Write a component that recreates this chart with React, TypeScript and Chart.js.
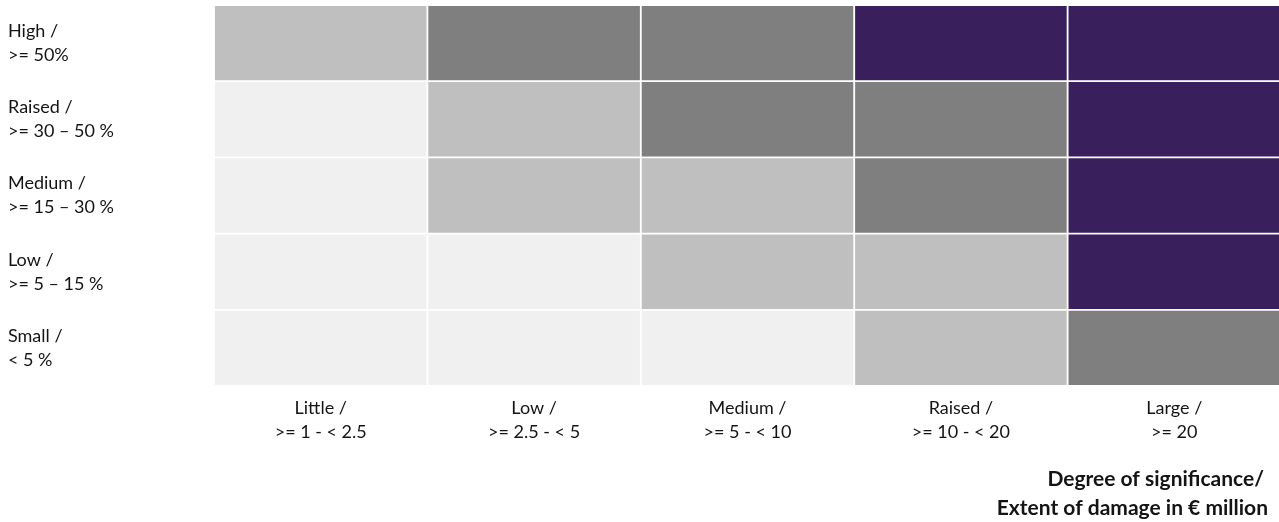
import { useEffect, useRef } from "react";
import { Chart, registerables } from "chart.js";

Chart.register(...registerables);

// Likelihood of occurrence (rows, top to bottom)
const rowLabels: string[][] = [
  ["High /", ">= 50%"],
  ["Raised /", ">= 30 – 50 %"],
  ["Medium /", ">= 15 – 30 %"],
  ["Low /", ">= 5 – 15 %"],
  ["Small /", "< 5 %"],
];

// Degree of significance / extent of damage (columns, left to right)
const colLabels: string[][] = [
  ["Little /", ">= 1 - < 2.5"],
  ["Low /", ">= 2.5 - < 5"],
  ["Medium /", ">= 5 - < 10"],
  ["Raised /", ">= 10 - < 20"],
  ["Large /", ">= 20"],
];

const axisCaption: string[] = ["Degree of significance/", "Extent of damage in € million"];

// Risk class of each cell, 0 = lowest … 3 = highest
const riskHigh = [1, 2, 2, 3, 3];
const riskRaised = [0, 1, 2, 2, 3];
const riskMedium = [0, 1, 1, 2, 3];
const riskLow = [0, 0, 1, 1, 3];
const riskSmall = [0, 0, 0, 1, 2];
const riskRows = [riskHigh, riskRaised, riskMedium, riskLow, riskSmall];

const levelColors = ["#F0F0F0", "#BFBFBF", "#7F7F7F", "#3A1F5D"];

const FONT = "Lato, 'Liberation Sans', sans-serif";
const TEXT = "#141414";

// Two-line, right-aligned caption for the horizontal axis
const captionPlugin = {
  id: "axisCaption",
  afterDraw(chart: any) {
    const { ctx, chartArea } = chart;
    ctx.save();
    ctx.font = `bold 21px ${FONT}`;
    ctx.fillStyle = TEXT;
    ctx.textAlign = "right";
    ctx.textBaseline = "middle";
    ctx.fillText(axisCaption[0], chartArea.right - 17, 479);
    ctx.fillText(axisCaption[1], chartArea.right - 13, 508);
    ctx.restore();
  },
};

export default function App() {
  const ref = useRef<HTMLCanvasElement>(null);

  useEffect(() => {
    const chart = new Chart(ref.current!, {
      type: "bar",
      data: {
        labels: rowLabels,
        datasets: colLabels.map((c, ci) => ({
          label: c.join(" "),
          data: rowLabels.map(() => 1),
          backgroundColor: riskRows.map((r) => levelColors[r[ci]]),
          borderColor: "#ffffff",
          borderWidth: 1.25,
          borderSkipped: false,
          barPercentage: 1,
          categoryPercentage: 1,
        })),
      },
      options: {
        indexAxis: "y",
        responsive: false,
        animation: false,
        devicePixelRatio: 1,
        layout: { padding: { left: 8, top: 5, right: 0, bottom: 0 } },
        plugins: { legend: { display: false }, tooltip: { enabled: false } },
        scales: {
          x: { type: "linear", stacked: true, min: 0, max: 5, display: false },
          y: {
            type: "category",
            stacked: true,
            grid: { display: false, drawTicks: false },
            border: { display: false },
            ticks: {
              crossAlign: "far",
              padding: 0,
              color: TEXT,
              font: { family: FONT, size: 18, lineHeight: 1.333 },
            },
            afterFit: (s: any) => {
              s.width = 206;
              s.paddingTop = 0;
              s.paddingBottom = 0;
            },
          },
          cols: {
            type: "category",
            labels: colLabels as any,
            position: "bottom",
            offset: true,
            grid: { display: false, drawTicks: false },
            border: { display: false },
            ticks: {
              padding: 10,
              color: TEXT,
              font: { family: FONT, size: 18, lineHeight: 1.333 },
            },
            afterFit: (s: any) => {
              s.height = 136;
            },
          },
        },
      } as any,
      plugins: [captionPlugin],
    });
    return () => chart.destroy();
  }, []);

  return (
    <div
      style={{
        position: "absolute",
        left: 0,
        top: 0,
        width: 1279,
        height: 522,
        overflow: "hidden",
        background: "#fff",
      }}
    >
      <canvas ref={ref} width={1281} height={522} style={{ display: "block" }} />
    </div>
  );
}
